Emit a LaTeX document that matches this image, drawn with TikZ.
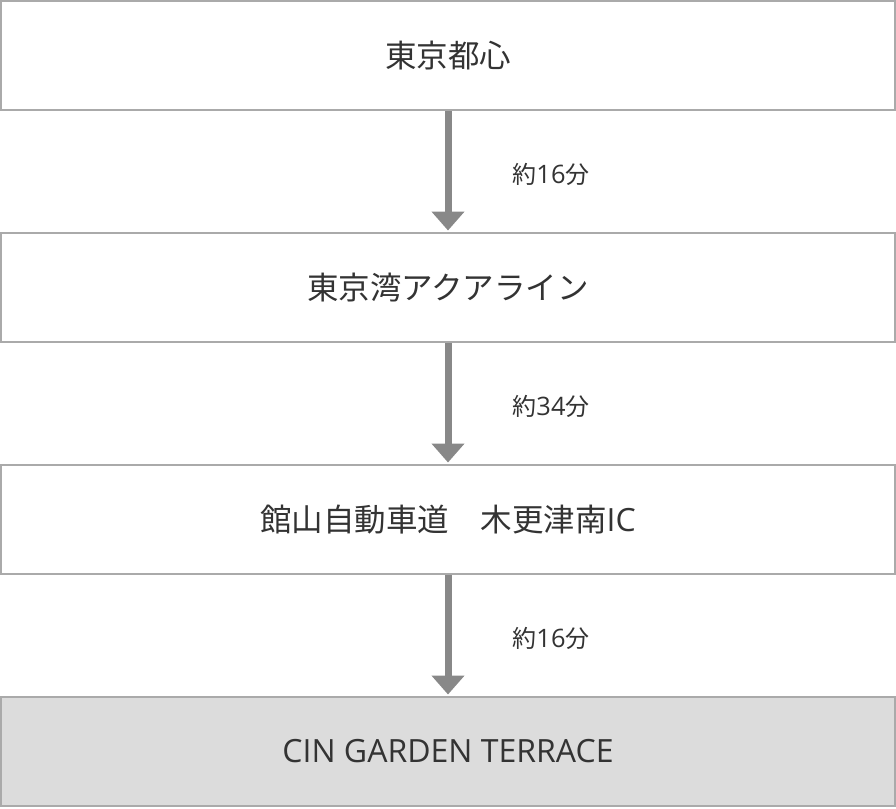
\documentclass[tikz,border=0pt]{standalone}
\usepackage{fontspec}
\setmainfont[Scale=1.016]{Open Sans}
\newfontfamily\cjk{Noto Sans CJK JP}
\usetikzlibrary{arrows.meta}
\definecolor{boxline}{HTML}{AAAAAA}
\definecolor{arrowc}{HTML}{888888}
\definecolor{txt}{HTML}{333333}
\definecolor{lastfill}{HTML}{DCDCDC}
\newcommand{\dropby}[2]{\raisebox{-#1}{#2}}
\tikzset{
  stepbox/.style={draw=boxline, line width=2pt, fill=white, minimum width=894pt, minimum height=109pt, inner sep=0pt, text=txt, font=\fontsize{31.5pt}{36pt}\selectfont},
  flowarrow/.style={draw=arrowc, line width=7pt, -{Triangle[width=32pt,length=19pt]}, arrowc, shorten >=1.5pt},
  timelabel/.style={text=txt, font=\fontsize{24pt}{28pt}\selectfont, inner sep=0pt}
}
\begin{document}
\begin{tikzpicture}[x=1pt,y=-1pt]
\useasboundingbox (0,0) rectangle (896,808);
\node[stepbox] (a) at (448,55.5) {\dropby{2pt}{\cjk 東京都心}};
\node[stepbox] (b) at (448,287.5) {\dropby{2pt}{\cjk 東京湾アクアライン}};
\node[stepbox] (c) at (448,519.5) {\dropby{2pt}{{\cjk 館山自動車道　木更津南}IC}};
\node[stepbox, fill=lastfill] (d) at (448,751.5) {\dropby{3pt}{CIN GARDEN TERRACE}};
\draw[flowarrow] (a.south) -- (b.north);
\draw[flowarrow] (b.south) -- (c.north);
\draw[flowarrow] (c.south) -- (d.north);
\node[timelabel] (t1) at (551,174) {{\cjk 約}\fontsize{25pt}{28pt}\selectfont 16{\cjk\fontsize{24pt}{28pt}\selectfont 分}};
\node[timelabel] (t2) at (551,406) {{\cjk 約}\fontsize{25pt}{28pt}\selectfont 34{\cjk\fontsize{24pt}{28pt}\selectfont 分}};
\node[timelabel] (t3) at (551,638) {{\cjk 約}\fontsize{25pt}{28pt}\selectfont 16{\cjk\fontsize{24pt}{28pt}\selectfont 分}};
\end{tikzpicture}
\end{document}
